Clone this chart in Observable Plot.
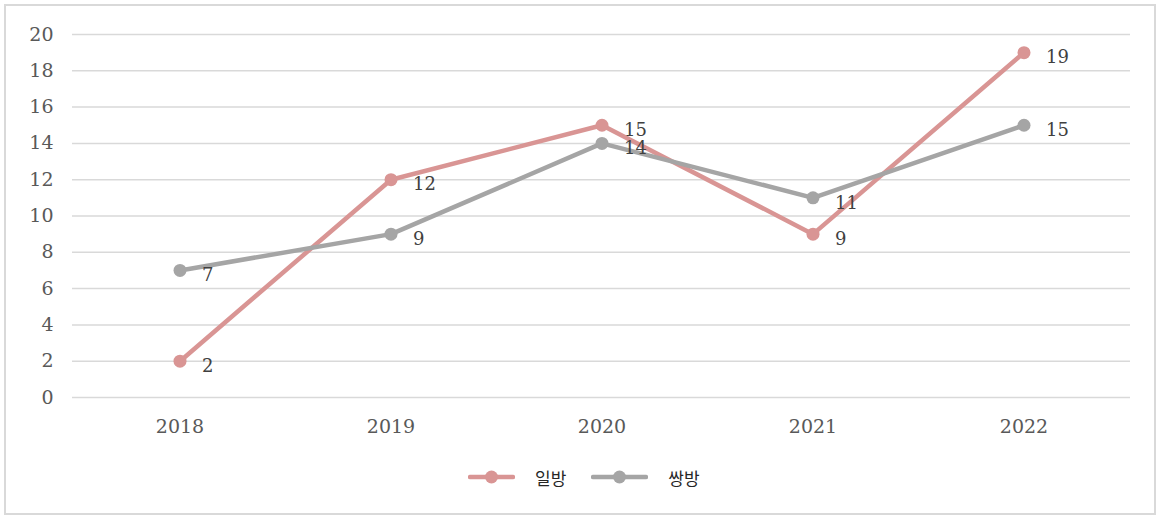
<!DOCTYPE html>
<html><head><meta charset="utf-8">
<script src="https://cdn.jsdelivr.net/npm/d3@7"></script>
<script src="https://cdn.jsdelivr.net/npm/@observablehq/plot@0.6"></script>
<style>
body{margin:0;background:#fff;}
#frame{position:absolute;left:4px;top:4px;width:1152px;height:511px;box-sizing:border-box;border:2px solid #d9d9d9;background:#fff;}
#legend{position:absolute;left:462px;top:460px;height:22px;display:flex;align-items:center;font-family:"Noto Sans CJK KR",sans-serif;font-size:17px;color:#262626;}
.item{display:flex;align-items:center;}
.item span{margin-left:20px;margin-right:25px;}
</style></head>
<body><div id="frame"><div id="chart"></div><div id="legend"></div></div>
<script>
const years = ["2018","2019","2020","2021","2022"];
const seriesNames = ["일방","쌍방"];
const oneWay = [2,12,15,9,19];
const twoWay = [7,9,14,11,15];
const yTicks = [0,2,4,6,8,10,12,14,16,18,20];
const colors = ["#d99594","#a5a5a5"];

const data = [];
years.forEach((y,i)=>{ data.push({year:y, series:seriesNames[0], value:oneWay[i]}); });
years.forEach((y,i)=>{ data.push({year:y, series:seriesNames[1], value:twoWay[i]}); });

const chart = Plot.plot({
  width:1148, height:440,
  marginLeft:66, marginRight:24, marginTop:28, marginBottom:49,
  style:{fontFamily:"'DejaVu Serif', serif", fontSize:"19px", color:"#595959", background:"transparent"},
  x:{type:"band", domain:years, padding:0, label:null, tickSize:0, tickPadding:22},
  y:{domain:[0,20], ticks:yTicks, label:null, tickSize:0, tickPadding:18},
  color:{domain:seriesNames, range:colors},
  marks:[
    Plot.gridY(yTicks,{stroke:"#d9d9d9", strokeOpacity:1, strokeWidth:1.5}),
    Plot.axisY({ticks:yTicks, tickSize:0, tickPadding:19, fill:"#595959", fontSize:19}),
    Plot.axisX({tickSize:0, tickPadding:22, fill:"#595959", fontSize:19}),
    Plot.line(data,{x:"year", y:"value", z:"series", stroke:"series", strokeWidth:4.5}),
    Plot.dot(data,{x:"year", y:"value", fill:"series", r:6.5}),
    Plot.text(data,{x:"year", y:"value", text:d=>String(d.value), dx:22, dy:5, textAnchor:"start", fill:"#404040", fontSize:18})
  ]
});
document.getElementById("chart").appendChild(chart);

const swatchW = [47,57];
const leg = document.getElementById("legend");
seriesNames.forEach((n,i)=>{
  const w = swatchW[i];
  const it = document.createElement("div"); it.className="item";
  it.innerHTML = `<svg width="${w}" height="14"><line x1="2" y1="7" x2="${w-2}" y2="7" stroke="${colors[i]}" stroke-width="4.5" stroke-linecap="round"/><circle cx="${w/2}" cy="7" r="6.5" fill="${colors[i]}"/></svg><span>${n}</span>`;
  leg.appendChild(it);
});
</script></body></html>
